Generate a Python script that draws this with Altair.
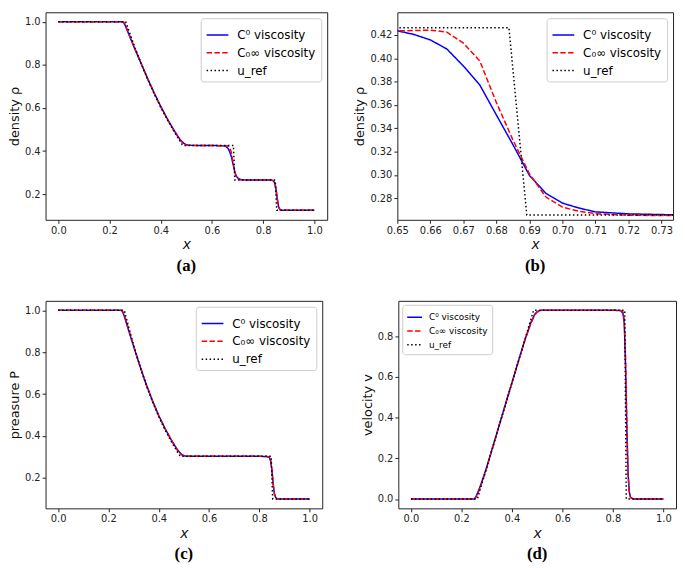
import altair as alt
import pandas as pd

# shared x grid of the numerical solutions
x_num = [0.0, 0.24, 0.25, 0.255, 0.26, 0.27, 0.28, 0.30, 0.325, 0.35,
         0.375, 0.40, 0.425, 0.45, 0.475, 0.49, 0.50, 0.51, 0.52, 0.60,
         0.65, 0.655, 0.66, 0.665, 0.67, 0.675, 0.68, 0.685, 0.69, 0.695,
         0.70, 0.705, 0.71, 0.72, 0.735, 0.80, 0.83, 0.84, 0.845, 0.85,
         0.855, 0.86, 0.865, 0.87, 0.88, 1.0]

rho_c0 = [1.0, 1.0, 1.0, 0.996, 0.986, 0.957, 0.928, 0.870, 0.802, 0.733,
          0.668, 0.607, 0.551, 0.500, 0.454, 0.436, 0.429, 0.4268, 0.4264, 0.4262,
          0.4236, 0.4205, 0.4158, 0.408, 0.3934, 0.377, 0.3514, 0.326, 0.2996, 0.2842,
          0.2758, 0.2716, 0.2683, 0.2666, 0.2657, 0.2656, 0.2652, 0.262, 0.252, 0.222,
          0.178, 0.143, 0.130, 0.126, 0.125, 0.125]
rho_cinf = [1.0, 1.0, 1.0, 0.998, 0.990, 0.962, 0.932, 0.873, 0.802, 0.732,
            0.666, 0.605, 0.549, 0.498, 0.451, 0.433, 0.428, 0.4266, 0.4263, 0.4263,
            0.4236, 0.4238, 0.4242, 0.4225, 0.413, 0.3976, 0.362, 0.330, 0.301, 0.281,
            0.2724, 0.2688, 0.2668, 0.2654, 0.2651, 0.2655, 0.2654, 0.263, 0.256, 0.228,
            0.180, 0.140, 0.128, 0.1255, 0.125, 0.125]

p_c0 = [1.0, 1.0, 1.0, 0.995, 0.982, 0.945, 0.905, 0.828, 0.735, 0.647,
        0.569, 0.498, 0.436, 0.381, 0.333, 0.313, 0.306, 0.3036, 0.3032, 0.3031,
        0.3031, 0.3031, 0.3031, 0.3031, 0.3031, 0.3031, 0.3031, 0.3031, 0.3031, 0.3031,
        0.3031, 0.3031, 0.3031, 0.3031, 0.3031, 0.3031, 0.3026, 0.297, 0.280, 0.235,
        0.170, 0.125, 0.107, 0.101, 0.100, 0.100]
p_cinf = [1.0, 1.0, 1.0, 0.997, 0.987, 0.951, 0.910, 0.831, 0.736, 0.647,
          0.568, 0.497, 0.435, 0.380, 0.331, 0.311, 0.305, 0.3034, 0.3031, 0.3031,
          0.3031, 0.3031, 0.3031, 0.3031, 0.3031, 0.3031, 0.3031, 0.3031, 0.3031, 0.3031,
          0.3031, 0.3031, 0.3031, 0.3031, 0.3031, 0.3031, 0.3028, 0.299, 0.285, 0.240,
          0.172, 0.122, 0.105, 0.1005, 0.100, 0.100]

v_c0 = [0.0, 0.0, 0.0, 0.006, 0.018, 0.048, 0.082, 0.156, 0.260, 0.364,
        0.468, 0.571, 0.674, 0.776, 0.866, 0.906, 0.920, 0.925, 0.927, 0.927,
        0.927, 0.927, 0.927, 0.927, 0.927, 0.927, 0.927, 0.927, 0.927, 0.927,
        0.927, 0.927, 0.927, 0.927, 0.927, 0.927, 0.925, 0.912, 0.86, 0.66,
        0.36, 0.13, 0.035, 0.008, 0.0, 0.0]
v_cinf = [0.0, 0.0, 0.0, 0.004, 0.014, 0.042, 0.076, 0.152, 0.258, 0.363,
          0.467, 0.570, 0.673, 0.775, 0.862, 0.903, 0.918, 0.924, 0.927, 0.927,
          0.927, 0.927, 0.927, 0.927, 0.927, 0.927, 0.927, 0.927, 0.927, 0.927,
          0.927, 0.927, 0.927, 0.927, 0.927, 0.927, 0.926, 0.918, 0.88, 0.70,
          0.38, 0.12, 0.03, 0.006, 0.0, 0.0]

# reference (exact) solution
x_rho_ref = [0.0, 0.263, 0.275, 0.30, 0.325, 0.35, 0.375, 0.40, 0.425, 0.45, 0.475,
             0.486, 0.6838, 0.6892, 0.847, 0.853, 1.0]
rho_ref = [1.0, 1.0, 0.960, 0.877, 0.801, 0.730, 0.664, 0.603, 0.547, 0.494, 0.446,
           0.4263, 0.4263, 0.2656, 0.2656, 0.125, 0.125]
x_p_ref = [0.0, 0.263, 0.275, 0.30, 0.325, 0.35, 0.375, 0.40, 0.425, 0.45, 0.475,
           0.486, 0.847, 0.853, 1.0]
p_ref = [1.0, 1.0, 0.9445, 0.8327, 0.7329, 0.6437, 0.5642, 0.4924, 0.4293, 0.3729,
         0.3227, 0.3031, 0.3031, 0.1, 0.1]
x_v_ref = [0.0, 0.263, 0.486, 0.847, 0.853, 1.0]
v_ref = [0.0, 0.0, 0.927, 0.927, 0.0, 0.0]

series = ["C⁰ viscosity", "C₀∞ viscosity", "u_ref"]
colors = ["#0000ff", "#ff0000", "#000000"]
dashes = [[1, 0], [5.5, 2.4], [1.5, 2.5]]


def make_df(y0, y1, xr, yr):
    rows = []
    for s, xs, ys in [(series[0], x_num, y0), (series[1], x_num, y1), (series[2], xr, yr)]:
        for i, (a, b) in enumerate(zip(xs, ys)):
            rows.append({"x": a, "y": b, "s": s, "o": i})
    return pd.DataFrame(rows)


def legend(small=False):
    if small:
        return alt.Legend(title=None, orient="top-left", offset=4, fillColor="white",
                          strokeColor="#cccccc", cornerRadius=3, padding=4,
                          labelFontSize=9, symbolType="stroke", symbolSize=225,
                          symbolStrokeWidth=1.5, rowPadding=0, labelFont="DejaVu Sans",
                          labelOffset=6)
    return alt.Legend(title=None, orient="top-right", offset=6, fillColor="white",
                      strokeColor="#cccccc", cornerRadius=3, padding=5,
                      labelFontSize=12, symbolType="stroke", symbolSize=484,
                      symbolStrokeWidth=1.5, rowPadding=0, labelFont="DejaVu Sans",
                      labelOffset=8)


def panel(df, ytitle, xdom, ydom, xticks, yticks, xfmt, yfmt, label, w, h,
          small=False, clip=False):
    lg = legend(small)
    return alt.Chart(df).mark_line(strokeWidth=1.5, clip=clip).encode(
        x=alt.X("x:Q", scale=alt.Scale(domain=xdom, nice=False, zero=False),
                axis=alt.Axis(values=xticks, format=xfmt, title="x",
                              titleFontStyle="italic", titleFontSize=14,
                              labelFlush=False, labelOverlap=False)),
        y=alt.Y("y:Q", scale=alt.Scale(domain=ydom, nice=False, zero=False),
                axis=alt.Axis(values=yticks, format=yfmt, title=ytitle,
                              labelFlush=False, labelOverlap=False)),
        color=alt.Color("s:N", scale=alt.Scale(domain=series, range=colors), legend=lg),
        strokeDash=alt.StrokeDash("s:N", scale=alt.Scale(domain=series, range=dashes), legend=lg),
        order="o:Q",
    ).properties(
        width=w, height=h,
        title=alt.TitleParams(label, orient="bottom", font="Liberation Serif",
                              fontSize=17, fontWeight="bold", color="black",
                              frame="group", anchor="middle", offset=6),
    )


xt = [0.0, 0.2, 0.4, 0.6, 0.8, 1.0]
pa = panel(make_df(rho_c0, rho_cinf, x_rho_ref, rho_ref), "density ρ",
           [-0.05, 1.05], [0.081, 1.044], xt, [0.2, 0.4, 0.6, 0.8, 1.0],
           ".1f", ".1f", "(a)", 285, 210)
pb = panel(make_df(rho_c0, rho_cinf, x_rho_ref, rho_ref), "density ρ",
           [0.65, 0.7335], [0.2615, 0.4395],
           [0.65, 0.66, 0.67, 0.68, 0.69, 0.70, 0.71, 0.72, 0.73],
           [0.28, 0.30, 0.32, 0.34, 0.36, 0.38, 0.40, 0.42],
           ".2f", ".2f", "(b)", 279, 210, clip=True)
pc = panel(make_df(p_c0, p_cinf, x_p_ref, p_ref), "preasure P",
           [-0.05, 1.05], [0.055, 1.045], xt, [0.2, 0.4, 0.6, 0.8, 1.0],
           ".1f", ".1f", "(c)", 280, 210)
pd_ = panel(make_df(v_c0, v_cinf, x_v_ref, v_ref), "velocity v",
            [-0.05, 1.05], [-0.046, 0.973], xt, [0.0, 0.2, 0.4, 0.6, 0.8],
            ".1f", ".1f", "(d)", 281, 210, small=True)

row1 = alt.hconcat(pa, pb, spacing=25).resolve_scale(color="independent", strokeDash="independent")
row2 = alt.hconcat(pc, pd_, spacing=38).resolve_scale(color="independent", strokeDash="independent")

chart = alt.vconcat(row1, row2, spacing=26).resolve_scale(
    color="independent", strokeDash="independent"
).properties(padding=0, background="white").configure_axis(
    labelFont="DejaVu Sans", labelFontSize=10, labelColor="#222222",
    titleFont="DejaVu Sans", titleFontSize=13, titleFontWeight="normal",
    titleColor="#111111", tickColor="#222222", tickSize=3.5, domain=False,
    grid=False, labelPadding=2, titlePadding=3,
).configure_view(stroke="#222222", strokeWidth=1)

chart.save("out.html", embed_options={"renderer": "svg", "actions": False})
